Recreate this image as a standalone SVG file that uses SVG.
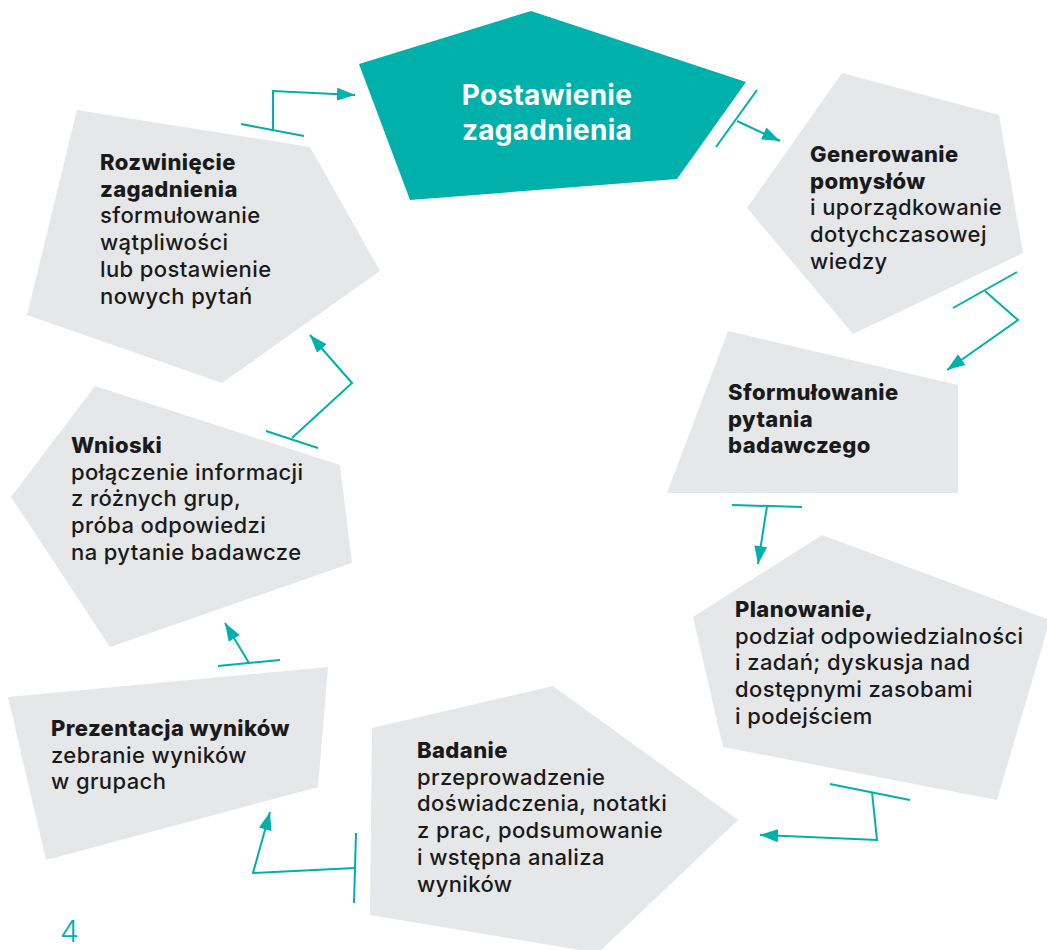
<svg xmlns="http://www.w3.org/2000/svg" width="1047" height="950" viewBox="0 0 1047 950">
  <style>
    .shape { fill: #E6E7E8; }
    .main { fill: #00B0AA; }
    .txt { font-family: Inter, "Noto Sans", "DejaVu Sans", sans-serif; font-size: 22px; font-weight: 500; letter-spacing: 0.4px; fill: #1A1A1A; }
    .b { font-weight: 800; }
    .title { font-family: Inter, "Noto Sans", "DejaVu Sans", sans-serif; font-size: 28px; font-weight: 700; letter-spacing: 0.3px; fill: #FFFFFF; text-anchor: middle; }
    .link { fill: none; stroke: #00B0AA; stroke-width: 2; stroke-linejoin: miter; }
    .page { font-family: Inter, "Noto Sans", sans-serif; font-size: 30px; font-weight: 300; fill: #00B0AA; }
  </style>
  <defs>
    <marker id="arrow" markerUnits="userSpaceOnUse" markerWidth="20" markerHeight="14" refX="18" refY="6.5" orient="auto">
      <path d="M0,0 L18,6.5 L0,13 Z" fill="#00B0AA"/>
    </marker>
  </defs>

  <rect width="1047" height="950" fill="#FFFFFF"/>

  <!-- cycle steps -->
  <g id="node-postawienie">
    <polygon class="main" points="531,11 746,82 677,179 410,200 359,64"/>
    <text class="title" x="547" y="105">Postawienie</text>
    <text class="title" x="547" y="140">zagadnienia</text>
  </g>

  <g id="node-generowanie">
    <polygon class="shape" points="842,73 999,115 1023,253 853,334 747,208"/>
    <text class="txt" x="810" y="162"><tspan class="b">Generowanie</tspan><tspan class="b" x="810" dy="26.7">pomysłów</tspan><tspan x="810" dy="26.7">i uporządkowanie</tspan><tspan x="810" dy="26.7">dotychczasowej</tspan><tspan x="810" dy="26.7">wiedzy</tspan></text>
  </g>

  <g id="node-sformulowanie">
    <polygon class="shape" points="728,331 958,385 958,493 667,493"/>
    <text class="txt b" x="728" y="400">Sformułowanie<tspan x="728" dy="26.7">pytania</tspan><tspan x="728" dy="26.7">badawczego</tspan></text>
  </g>

  <g id="node-planowanie">
    <polygon class="shape" points="822,535 1050,620 997,800 723,747 693,617"/>
    <text class="txt" x="735" y="617"><tspan class="b">Planowanie,</tspan><tspan x="735" dy="26.7">podział odpowiedzialności</tspan><tspan x="735" dy="26.7">i zadań; dyskusja nad</tspan><tspan x="735" dy="26.7">dostępnymi zasobami</tspan><tspan x="735" dy="26.7">i podejściem</tspan></text>
  </g>

  <g id="node-badanie">
    <polygon class="shape" points="553,686 738,820 598,953 370,915 372,728"/>
    <text class="txt" x="417" y="758"><tspan class="b">Badanie</tspan><tspan x="417" dy="26.7">przeprowadzenie</tspan><tspan x="417" dy="26.7">doświadczenia, notatki</tspan><tspan x="417" dy="26.7">z prac, podsumowanie</tspan><tspan x="417" dy="26.7">i wstępna analiza</tspan><tspan x="417" dy="26.7">wyników</tspan></text>
  </g>

  <g id="node-prezentacja">
    <polygon class="shape" points="8,697 328,667 318,787 46,860"/>
    <text class="txt" x="51" y="736"><tspan class="b">Prezentacja wyników</tspan><tspan x="51" dy="26.7">zebranie wyników</tspan><tspan x="51" dy="26.7">w grupach</tspan></text>
  </g>

  <g id="node-wnioski">
    <polygon class="shape" points="95,386 340,465 352,563 110,647 11,497"/>
    <text class="txt" x="71" y="453"><tspan class="b">Wnioski</tspan><tspan x="71" dy="26.7">połączenie informacji</tspan><tspan x="71" dy="26.7">z różnych grup,</tspan><tspan x="71" dy="26.7">próba odpowiedzi</tspan><tspan x="71" dy="26.7">na pytanie badawcze</tspan></text>
  </g>

  <g id="node-rozwiniecie">
    <polygon class="shape" points="77,110 310,147 380,271 222,383 27,315"/>
    <text class="txt" x="100" y="170"><tspan class="b">Rozwinięcie</tspan><tspan class="b" x="100" dy="26.7">zagadnienia</tspan><tspan x="100" dy="26.7">sformułowanie</tspan><tspan x="100" dy="26.7">wątpliwości</tspan><tspan x="100" dy="26.7">lub postawienie</tspan><tspan x="100" dy="26.7">nowych pytań</tspan></text>
  </g>

  <!-- connectors: a bar at the source, an elbow line and an arrowhead at the target -->
  <g id="connectors">
    <line class="link" x1="241" y1="124" x2="304" y2="136"/>
    <polyline class="link" points="273,130 273,91 355,95" marker-end="url(#arrow)"/>

    <line class="link" x1="757" y1="90" x2="716" y2="147"/>
    <polyline class="link" points="737,121 780,141" marker-end="url(#arrow)"/>

    <line class="link" x1="1017" y1="272" x2="953" y2="308"/>
    <polyline class="link" points="985,291 1018,320 947,370" marker-end="url(#arrow)"/>

    <line class="link" x1="732" y1="505" x2="802" y2="507"/>
    <polyline class="link" points="767,506 758,564" marker-end="url(#arrow)"/>

    <line class="link" x1="830" y1="784" x2="910" y2="800"/>
    <polyline class="link" points="872,792 877,840 760,835" marker-end="url(#arrow)"/>

    <line class="link" x1="356" y1="833" x2="354" y2="903"/>
    <polyline class="link" points="355,868 253,873 270,812" marker-end="url(#arrow)"/>

    <line class="link" x1="218" y1="666" x2="280" y2="660"/>
    <polyline class="link" points="249,663 225,623" marker-end="url(#arrow)"/>

    <line class="link" x1="266" y1="431" x2="318" y2="448"/>
    <polyline class="link" points="292,438 352,383 310,335" marker-end="url(#arrow)"/>
  </g>

  <!-- page number -->
  <text class="page" x="60" y="942">4</text>
</svg>
